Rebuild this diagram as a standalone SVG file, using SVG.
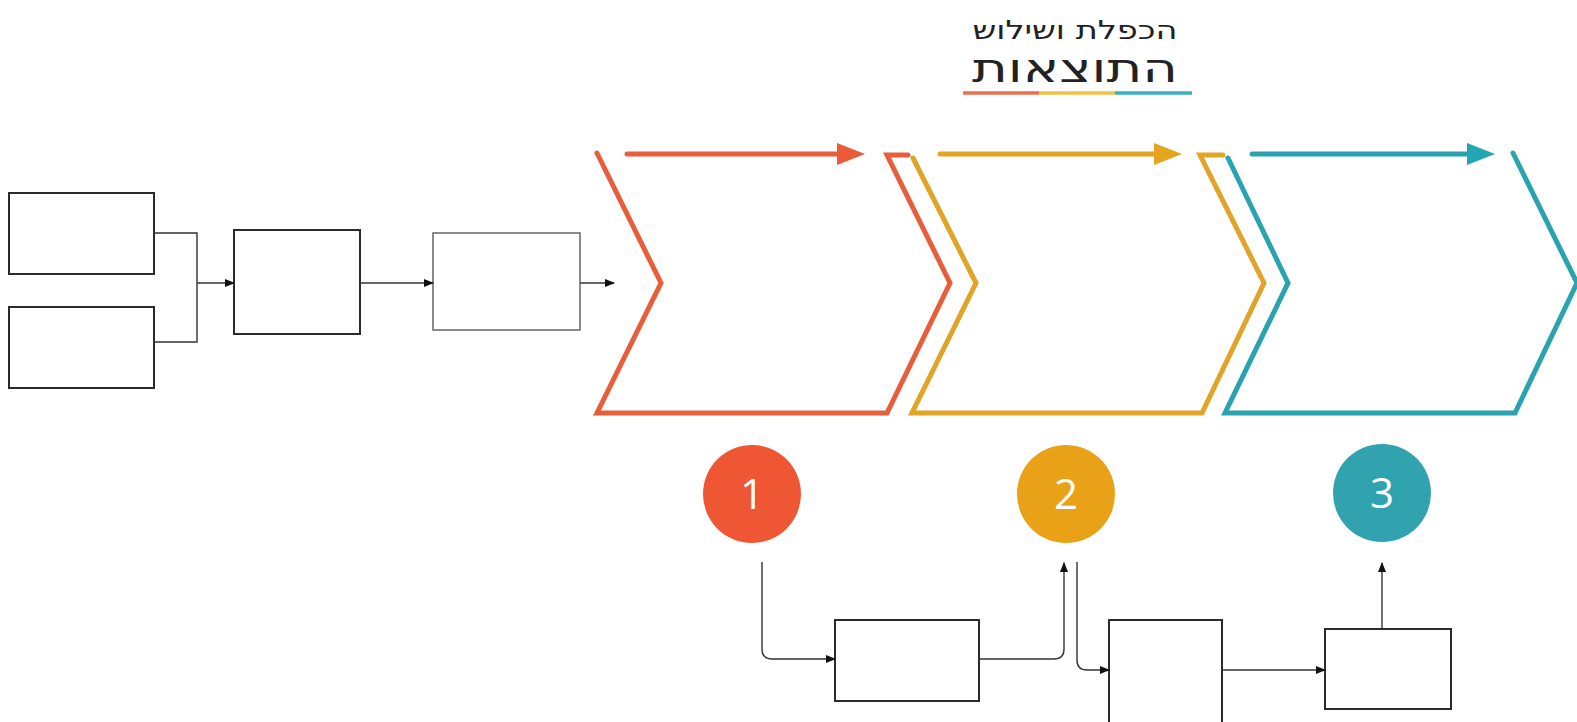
<svg xmlns="http://www.w3.org/2000/svg" width="1577" height="722" viewBox="0 0 1577 722">
<style>
.box{fill:#fff;stroke:#2b2b2b;stroke-width:2}
.box.light{stroke:#666;stroke-width:1.5}
.conn{fill:none;stroke:#333;stroke-width:1.4}
.chev{fill:none;stroke-width:5;stroke-linejoin:miter;stroke-linecap:round}
.big{fill:none;stroke-width:5;stroke-linecap:round}
.num{font-family:"Open Sans","DejaVu Sans",sans-serif;font-size:42px;fill:#fff;text-anchor:middle}
.heb{font-family:"DejaVu Sans",sans-serif;fill:#222;text-anchor:middle}
</style>
<defs>
<marker id="ah" markerWidth="10" markerHeight="8" refX="9" refY="4" orient="auto" markerUnits="userSpaceOnUse">
<path d="M0,0 L10,4 L0,8 Z" fill="#111"/>
</marker>
<marker id="ahR" markerWidth="28" markerHeight="22" refX="2" refY="11" orient="auto" markerUnits="userSpaceOnUse">
<path d="M0,0 L28,11 L0,22 Z" fill="#EB5A37"/>
</marker>
<marker id="ahY" markerWidth="28" markerHeight="22" refX="2" refY="11" orient="auto" markerUnits="userSpaceOnUse">
<path d="M0,0 L28,11 L0,22 Z" fill="#E6A520"/>
</marker>
<marker id="ahT" markerWidth="28" markerHeight="22" refX="2" refY="11" orient="auto" markerUnits="userSpaceOnUse">
<path d="M0,0 L28,11 L0,22 Z" fill="#23A5B5"/>
</marker>
</defs>
<rect width="1577" height="722" fill="#fff"/>

<g id="title">
<text class="heb" x="1075" y="39" font-size="26" textLength="205" lengthAdjust="spacingAndGlyphs">הכפלת ושילוש</text>
<text class="heb" x="1075" y="82" font-size="40" textLength="206" lengthAdjust="spacingAndGlyphs">התוצאות</text>
<line x1="963" y1="93" x2="1039" y2="93" stroke="#E8704E" stroke-width="3.5"/>
<line x1="1039" y1="93" x2="1115" y2="93" stroke="#F0C040" stroke-width="3.5"/>
<line x1="1115" y1="93" x2="1192" y2="93" stroke="#3AB0BE" stroke-width="3.5"/>
</g>

<g id="chevron1">
<path class="chev" stroke="#E85D3A" d="M597,153 L661,283 L597,413 L887,413 L950,283 L887,155 L908,155"/>
<line class="big" stroke="#E85D3A" x1="627" y1="154" x2="839" y2="154" marker-end="url(#ahR)"/>
</g>
<g id="chevron2">
<path class="chev" stroke="#E2A427" d="M913,158 L976,283 L912,413 L1202,413 L1264,283 L1200,155 L1223,155"/>
<line class="big" stroke="#E2A427" x1="940" y1="154" x2="1156" y2="154" marker-end="url(#ahY)"/>
</g>
<g id="chevron3">
<path class="chev" stroke="#2AA3B0" d="M1228,158 L1288,283 L1225,413 L1515,413 L1577,283 L1513,153"/>
<line class="big" stroke="#2AA3B0" x1="1252" y1="154" x2="1469" y2="154" marker-end="url(#ahT)"/>
</g>

<g id="circle1"><circle cx="752" cy="494" r="49" fill="#EE5634"/><text class="num" x="752" y="509">1</text></g>
<g id="circle2"><circle cx="1066" cy="494" r="49" fill="#E9A118"/><text class="num" x="1066" y="509">2</text></g>
<g id="circle3"><circle cx="1382" cy="493" r="49" fill="#30A3AF"/><text class="num" x="1382" y="508">3</text></g>

<g id="box1"><rect class="box" x="9" y="193" width="145" height="81"/></g>
<g id="box2"><rect class="box" x="9" y="307" width="145" height="81"/></g>
<g id="box3"><rect class="box" x="234" y="230" width="126" height="104"/></g>
<g id="box4"><rect class="box light" x="433" y="233" width="147" height="97"/></g>
<g id="box5"><rect class="box" x="835" y="620" width="144" height="81"/></g>
<g id="box6"><rect class="box" x="1109" y="620" width="113" height="110"/></g>
<g id="box7"><rect class="box" x="1325" y="629" width="126" height="80"/></g>

<g id="connectors">
<path class="conn" d="M154,233 H197 V342 H154"/>
<line class="conn" x1="197" y1="283" x2="234" y2="283" marker-end="url(#ah)"/>
<line class="conn" x1="360" y1="283" x2="433" y2="283" marker-end="url(#ah)"/>
<line class="conn" x1="580" y1="283" x2="614" y2="283" marker-end="url(#ah)"/>
<path class="conn" d="M762,562 V649 Q762,659 772,659 H835" marker-end="url(#ah)"/>
<path class="conn" d="M979,659 H1054 Q1064,659 1064,649 V563" marker-end="url(#ah)"/>
<path class="conn" d="M1077,562 V660 Q1077,670 1087,670 H1109" marker-end="url(#ah)"/>
<line class="conn" x1="1222" y1="670" x2="1325" y2="670" marker-end="url(#ah)"/>
<line class="conn" x1="1382" y1="629" x2="1382" y2="563" marker-end="url(#ah)"/>
</g>
</svg>
